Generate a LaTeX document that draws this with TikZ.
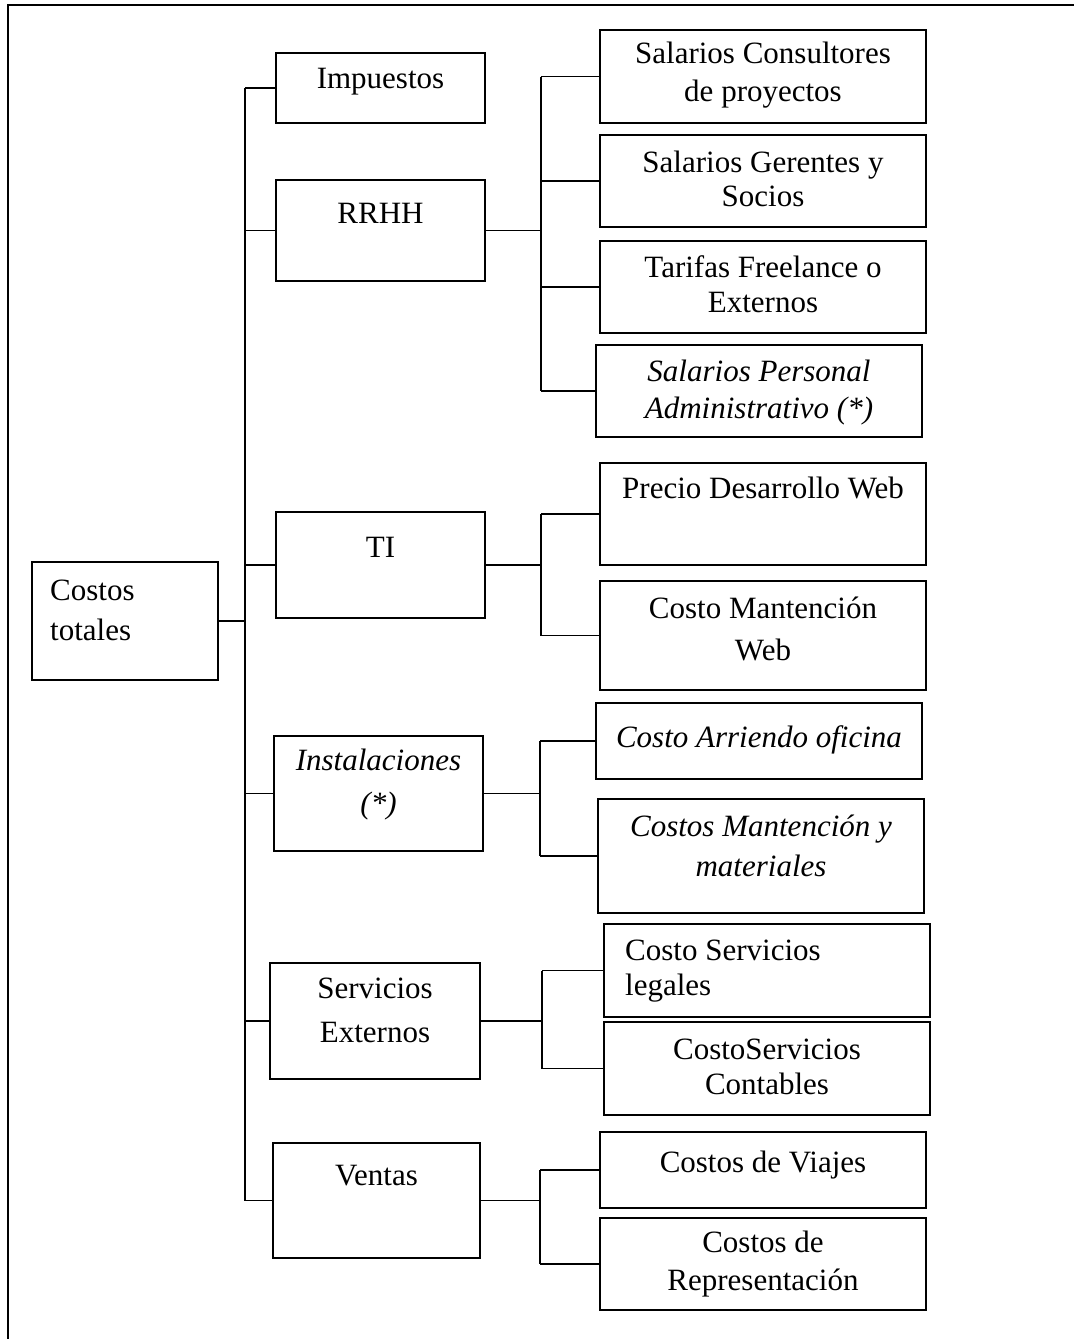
\documentclass[tikz,border=0pt]{standalone}
\usepackage{fontspec}
\setmainfont{Liberation Serif}
\usepackage{tikz}
\usetikzlibrary{positioning}

\tikzset{caja/.style={draw, line width=1.6pt, inner sep=0pt, minimum width=#1},
caja/.default=326,
txt/.style={font=\fontsize{31}{#1}\selectfont, align=center, anchor=base, inner sep=0pt},
txt/.default=37,
linea/.style={line width=1.6pt}}

\begin{document}
\begin{tikzpicture}[x=1pt, y=-1pt]
\useasboundingbox (0,0) rectangle (1074,1339);
\draw[linea] (8,1339) -- (8,5) -- (1074,5);

\node[caja=186, minimum height=118] (tot) at (125,621){};
\node[caja=209, minimum height=70] (imp) at (380.5,88){};
\node[caja=209, minimum height=101] (rrhh) at (380.5,230.5){};
\node[caja=209, minimum height=106] (ti) at (380.5,565){};
\node[caja=209, minimum height=115] (ins) at (378.5,793.5){};
\node[caja=210, minimum height=116] (sext) at (375,1021){};
\node[caja=207, minimum height=115] (ven) at (376.5,1200.5){};

\node[caja, minimum height=93] (sc) at (763,76.5){};
\node[caja, minimum height=92] (sg) at (763,181){};
\node[caja, minimum height=92] (tf) at (763,287){};
\node[caja, minimum height=92] (spa) at (759,391){};
\node[caja, minimum height=102] (pdw) at (763,514){};
\node[caja, minimum height=109] (cmw) at (763,635.5){};
\node[caja, minimum height=76] (cao) at (759,741){};
\node[caja, minimum height=114] (cmm) at (761,856){};
\node[caja, minimum height=93] (csl) at (767,970.5){};
\node[caja, minimum height=93] (csc) at (767,1068.5){};
\node[caja, minimum height=76] (cdv) at (763,1170){};
\node[caja, minimum height=92] (cdr) at (763,1264){};

\node[txt=40, align=left, anchor=base west] (t-tot) at (50,640){Costos\\totales};
\node[txt] (t-imp) at (380.5,88){Impuestos};
\node[txt] (t-rrhh) at (380.5,223){RRHH};
\node[txt] (t-ti) at (380.5,557){TI};
\node[txt=43] (t-ins) at (378.5,813){\itshape Instalaciones\\\itshape (*)};
\node[txt=44] (t-sext) at (375,1042){Servicios\\Externos};
\node[txt] (t-ven) at (376.5,1185){Ventas};

\node[txt=38] (t-sc) at (763,101){Salarios Consultores\\de proyectos};
\node[txt=34] (t-sg) at (763,206){Salarios Gerentes y\\Socios};
\node[txt=35] (t-tf) at (763,312){Tarifas Freelance o\\Externos};
\node[txt] (t-spa) at (759,418){\itshape Salarios Personal\\\itshape Administrativo (*)};
\node[txt] (t-pdw) at (763,498){Precio Desarrollo Web};
\node[txt=42] (t-cmw) at (763,660){Costo Mantención\\Web};
\node[txt] (t-cao) at (759,747){\itshape Costo Arriendo oficina};
\node[txt=40] (t-cmm) at (761,876){\itshape Costos Mantención y\\\itshape materiales};
\node[txt=35, align=left, anchor=base west] (t-csl) at (625,995){Costo Servicios\\legales};
\node[txt=35] (t-csc) at (767,1094){CostoServicios\\Contables};
\node[txt] (t-cdv) at (763,1172){Costos de Viajes};
\node[txt=38] (t-cdr) at (763,1290){Costos de\\Representación};

\coordinate (b0) at (245,0);
\coordinate (b1) at (541,0);
\coordinate (b2) at (541,0);
\coordinate (b3) at (540,0);
\coordinate (b4) at (542,0);
\coordinate (b5) at (540,0);

\draw[line width=2.4pt] (tot.east) -- (tot.east -| b0);
\draw[linea] (b0 |- imp.west) -- (b0 |- ven.west);
\foreach \c in {imp, rrhh, ti, ins, sext, ven}
\draw[linea] (b0 |- \c.west) -- (\c.west);

\foreach \p/\b/\first/\last in {rrhh/b1/sc/spa, ti/b2/pdw/cmw, ins/b3/cao/cmm, sext/b4/csl/csc, ven/b5/cdv/cdr}{
\draw[linea] (\p.east) -- (\p.east -| \b);
\draw[linea] (\b |- \first.west) -- (\b |- \last.west);}
\foreach \b/\c in {b1/sc, b1/sg, b1/tf, b1/spa, b2/pdw, b2/cmw, b3/cao, b3/cmm, b4/csl, b4/csc, b5/cdv, b5/cdr}
\draw[linea] (\b |- \c.west) -- (\c.west);
\end{tikzpicture}
\end{document}
